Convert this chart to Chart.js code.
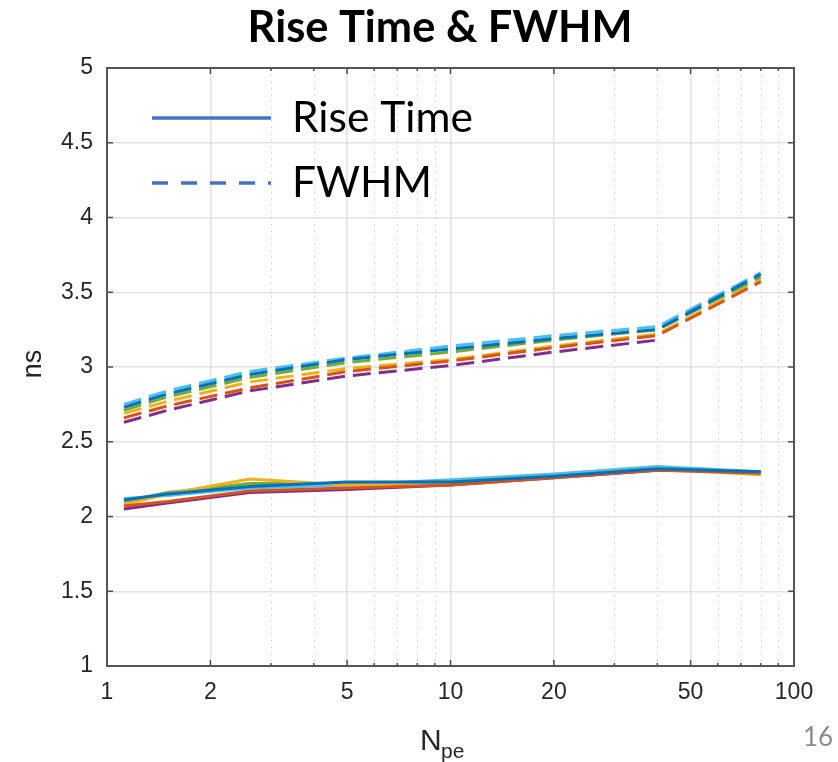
<!DOCTYPE html>
<html>
<head>
<meta charset="utf-8">
<script src="https://cdn.jsdelivr.net/npm/chart.js@4.4.1/dist/chart.umd.min.js"></script>
<style>
html, body { margin: 0; padding: 0; background: #fff; }
#wrap { width: 838px; height: 762px; position: relative; }
</style>
</head>
<body>
<div id="wrap"><canvas id="myChart" width="838" height="762"></canvas></div>
<script>
// mean number of photoelectrons
var npe = [1.12, 1.5, 2.6, 5, 10, 20, 40, 80]
var seriesColors = ['#0072BD', '#D95319', '#EDB120', '#7E2F8E', '#77AC30', '#4DBEEE']

// rise time (ns), one row per colour
var riseBlue = [2.11, 2.15, 2.20, 2.23, 2.23, 2.27, 2.32, 2.30]
var riseOrange = [2.07, 2.10, 2.17, 2.19, 2.21, 2.26, 2.31, 2.29]
var riseYellow = [2.08, 2.15, 2.25, 2.21, 2.23, 2.27, 2.32, 2.28]
var risePurple = [2.05, 2.09, 2.16, 2.18, 2.21, 2.26, 2.31, null]
var riseGreen = [2.10, 2.16, 2.22, 2.22, 2.23, 2.27, 2.32, 2.30]
var riseLightBlue = [2.12, 2.14, 2.19, 2.21, 2.245, 2.285, 2.335, 2.30]

// FWHM (ns)
var fwhmBlue = [2.73, 2.82, 2.95, 3.05, 3.12, 3.19, 3.25, 3.62]
var fwhmOrange = [2.66, 2.74, 2.86, 2.97, 3.04, 3.13, 3.21, 3.57]
var fwhmYellow = [2.69, 2.77, 2.90, 2.99, 3.05, 3.14, 3.22, 3.58]
var fwhmPurple = [2.63, 2.71, 2.84, 2.94, 3.01, 3.10, 3.18, null]
var fwhmGreen = [2.71, 2.80, 2.93, 3.03, 3.10, 3.18, 3.25, 3.60]
var fwhmLightBlue = [2.75, 2.84, 2.97, 3.06, 3.14, 3.21, 3.27, 3.63]

var xTicks = [1, 2, 5, 10, 20, 50, 100]
var xMinorTicks = [3, 4, 6, 7, 8, 9, 30, 40, 60, 70, 80, 90]
var yTicks = [1, 1.5, 2, 2.5, 3, 3.5, 4, 4.5, 5]
var legendLabels = ['Rise Time', 'FWHM']
var titleText = 'Rise Time & FWHM'
var yTitle = 'ns'
var slideNumber = '16'

var riseRows = [riseBlue, riseOrange, riseYellow, risePurple, riseGreen, riseLightBlue]
var fwhmRows = [fwhmBlue, fwhmOrange, fwhmYellow, fwhmPurple, fwhmGreen, fwhmLightBlue]

function toPoints(row) {
    return npe.map(function (x, i) { return { x: x, y: row[i] } })
}

var datasets = []
for (var i = 0; i < 6; i++) {
    datasets.push({
        label: legendLabels[0] + ' ' + i,
        data: toPoints(riseRows[i]),
        borderColor: seriesColors[i],
        borderWidth: 3
    })
}
for (var j = 0; j < 6; j++) {
    datasets.push({
        label: legendLabels[1] + ' ' + j,
        data: toPoints(fwhmRows[j]),
        borderColor: seriesColors[j],
        borderWidth: 3,
        borderDash: [18, 8]
    })
}

function fitFont(ctx, text, weight, family, width) {
    ctx.font = weight + ' 100px ' + family
    return 100 * width / ctx.measureText(text).width
}

const decor = {
    id: 'decor',
    beforeDatasetsDraw: function (chart) {
        var ctx = chart.ctx, a = chart.chartArea, x = chart.scales.x
        ctx.save()
        ctx.strokeStyle = '#cfcfcf'
        ctx.lineWidth = 1
        ctx.setLineDash([1.5, 5])
        xMinorTicks.forEach(function (v) {
            var px = Math.round(x.getPixelForValue(v)) + 0.5
            ctx.beginPath()
            ctx.moveTo(px, a.top)
            ctx.lineTo(px, a.bottom)
            ctx.stroke()
        })
        ctx.restore()
    },
    afterDatasetsDraw: function (chart) {
        var ctx = chart.ctx, a = chart.chartArea, x = chart.scales.x, y = chart.scales.y
        ctx.save()
        ctx.strokeStyle = '#4d4d4d'
        ctx.lineWidth = 1.5
        xTicks.forEach(function (v) {
            var px = x.getPixelForValue(v)
            ctx.beginPath()
            ctx.moveTo(px, a.bottom); ctx.lineTo(px, a.bottom - 6)
            ctx.moveTo(px, a.top); ctx.lineTo(px, a.top + 6)
            ctx.stroke()
        })
        xMinorTicks.forEach(function (v) {
            var px = x.getPixelForValue(v)
            ctx.beginPath()
            ctx.moveTo(px, a.bottom); ctx.lineTo(px, a.bottom - 3)
            ctx.moveTo(px, a.top); ctx.lineTo(px, a.top + 3)
            ctx.stroke()
        })
        yTicks.forEach(function (v) {
            var py = y.getPixelForValue(v)
            ctx.beginPath()
            ctx.moveTo(a.left, py); ctx.lineTo(a.left + 6, py)
            ctx.moveTo(a.right, py); ctx.lineTo(a.right - 6, py)
            ctx.stroke()
        })
        ctx.strokeStyle = '#555'
        ctx.lineWidth = 2
        ctx.strokeRect(a.left, a.top, a.right - a.left, a.bottom - a.top)
        ctx.restore()
    },
    afterDraw: function (chart) {
        var ctx = chart.ctx
        ctx.save()
        // title
        var ts = fitFont(ctx, titleText, 'bold', 'Lato', 385)
        ctx.font = 'bold ' + ts + 'px Lato'
        ctx.fillStyle = '#000'
        ctx.textAlign = 'center'
        ctx.textBaseline = 'middle'
        ctx.fillText(titleText, 440, 28)

        // legend
        ctx.strokeStyle = '#4472C4'
        ctx.lineWidth = 3.5
        ctx.beginPath(); ctx.moveTo(152, 118); ctx.lineTo(271, 118); ctx.stroke()
        ctx.setLineDash([16, 13])
        ctx.beginPath(); ctx.moveTo(152, 183); ctx.lineTo(271, 183); ctx.stroke()
        ctx.setLineDash([])
        var ls = fitFont(ctx, legendLabels[0], 'normal', 'Lato', 181)
        ctx.font = ls + 'px Lato'
        ctx.textAlign = 'left'
        ctx.fillText(legendLabels[0], 292, 118)
        ctx.fillText(legendLabels[1], 292, 183)

        // axis titles
        ctx.fillStyle = '#262626'
        ctx.font = '27px "Liberation Sans"'
        ctx.save()
        ctx.translate(34, 364)
        ctx.rotate(-Math.PI / 2)
        ctx.textAlign = 'center'
        ctx.fillText(yTitle, 0, 0)
        ctx.restore()
        ctx.textAlign = 'left'
        ctx.textBaseline = 'alphabetic'
        ctx.font = '30px "Liberation Sans"'
        ctx.fillText('N', 420, 750)
        ctx.font = '21px "Liberation Sans"'
        ctx.fillText('pe', 441, 758)

        // slide number
        ctx.fillStyle = '#8c8c8c'
        ctx.font = '26px Lato'
        ctx.textAlign = 'center'
        ctx.textBaseline = 'middle'
        ctx.fillText(slideNumber, 818, 738)
        ctx.restore()
    }
}

var tickFont = { family: 'Liberation Sans', size: 23 }

const config = {
    type: 'line',
    data: { datasets: datasets },
    options: {
        responsive: false,
        animation: false,
        devicePixelRatio: 1,
        layout: { padding: { left: 0, right: 44, top: 68, bottom: 0 } },
        plugins: {
            legend: { display: false },
            title: { display: false },
            tooltip: { enabled: false }
        },
        elements: {
            point: { radius: 0 },
            line: { tension: 0 }
        },
        scales: {
            x: {
                type: 'logarithmic',
                min: 1,
                max: 100,
                afterBuildTicks: function (axis) {
                    axis.ticks = xTicks.map(function (v) { return { value: v } })
                },
                afterFit: function (axis) { axis.height = 96 },
                ticks: {
                    autoSkip: false,
                    maxRotation: 0,
                    padding: 13,
                    color: '#262626',
                    font: tickFont,
                    callback: function (v) { return String(v) }
                },
                grid: { color: '#e2e2e2', lineWidth: 1.5, drawTicks: false },
                border: { display: false }
            },
            y: {
                type: 'linear',
                min: 1,
                max: 5,
                afterBuildTicks: function (axis) {
                    axis.ticks = yTicks.map(function (v) { return { value: v } })
                },
                afterFit: function (axis) { axis.width = 107 },
                ticks: {
                    padding: 14,
                    color: '#262626',
                    font: tickFont,
                    callback: function (v) { return String(v) }
                },
                grid: { color: '#e2e2e2', lineWidth: 1.5, drawTicks: false },
                border: { display: false }
            }
        }
    },
    plugins: [decor]
}

var myChart = new Chart(document.getElementById('myChart'), config)
</script>
</body>
</html>
